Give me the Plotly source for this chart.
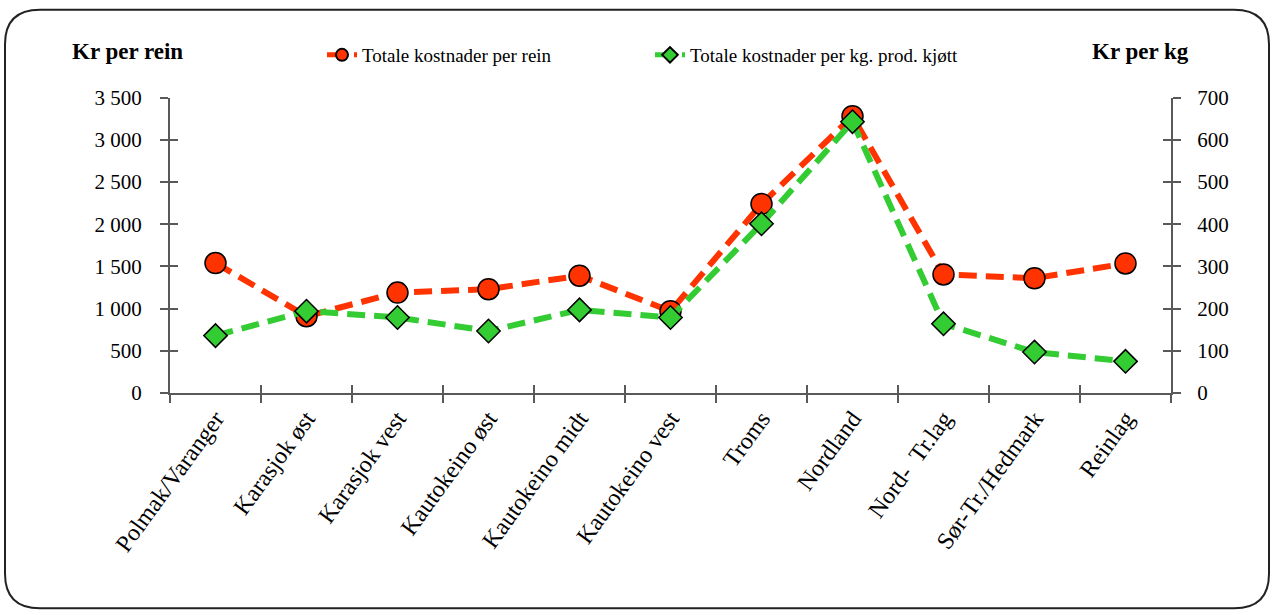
import plotly.graph_objects as go

categories = ["Polmak/Varanger", "Karasjok øst", "Karasjok vest", "Kautokeino øst",
              "Kautokeino midt", "Kautokeino vest", "Troms", "Nordland",
              "Nord-  Tr.lag", "Sør-Tr./Hedmark", "Reinlag"]
kost_per_rein = [1540, 910, 1190, 1230, 1390, 970, 2240, 3280, 1405, 1360, 1535]
kost_per_kg = [136, 194, 179, 147, 197, 179, 401, 643, 164, 97, 75]

left_ticks = [0, 500, 1000, 1500, 2000, 2500, 3000, 3500]
right_ticks = [0, 100, 200, 300, 400, 500, 600, 700]

FONT = "Liberation Serif"
W, H = 1274, 615
ML, MR, MT, MB = 170, 103, 94, 222
PW = W - ML - MR

n = len(categories)
xrange_ = [-0.5, n - 0.5]
boundaries = [i - 0.5 for i in range(n + 1)]

fig = go.Figure()
# invisible helper traces so the overlay axes (inner tick halves) get drawn
fig.add_trace(go.Scatter(x=[None], y=[None], xaxis="x2", yaxis="y3", showlegend=False,
                         hoverinfo="skip", mode="markers"))
fig.add_trace(go.Scatter(x=[None], y=[None], xaxis="x2", yaxis="y4", showlegend=False,
                         hoverinfo="skip", mode="markers"))

fig.add_trace(go.Scatter(
    x=categories, y=kost_per_rein, name="Totale kostnader per rein",
    mode="lines+markers",
    line=dict(color="#FF3300", width=6, dash="18px,9px"),
    marker=dict(symbol="circle", size=21, color="#FF3300", line=dict(color="black", width=1.5)),
    xaxis="x", yaxis="y"))
fig.add_trace(go.Scatter(
    x=categories, y=kost_per_kg, name="Totale kostnader per kg. prod. kjøtt",
    mode="lines+markers",
    line=dict(color="#33CC33", width=6, dash="18px,9px"),
    marker=dict(symbol="diamond", size=18, color="#33CC33", line=dict(color="black", width=1.5)),
    xaxis="x", yaxis="y2"))

LC = "#595959"
axis_common = dict(showgrid=False, zeroline=False, showline=True, linecolor=LC,
                   linewidth=2, ticks="outside", ticklen=8, tickcolor=LC, tickwidth=1.5)
yfont = dict(family=FONT, size=21, color="black")
inner = dict(showgrid=False, zeroline=False, showline=False, ticks="inside", ticklen=8,
             tickcolor=LC, tickwidth=1.5, showticklabels=False, fixedrange=True)

fig.update_layout(
    width=W, height=H,
    paper_bgcolor="white", plot_bgcolor="rgba(0,0,0,0)",
    margin=dict(l=ML, r=MR, t=MT, b=MB),
    separators=", ",
    font=dict(family=FONT, color="black"),
    xaxis=dict(**axis_common, type="category", range=xrange_, tickangle=-54,
               tickson="boundaries",
               tickfont=dict(family=FONT, size=24, color="black")),
    xaxis2=dict(**inner, type="linear", range=xrange_, tickvals=boundaries,
                overlaying="x", anchor="y", side="bottom"),
    yaxis=dict(**axis_common, range=[0, 3500], tickvals=left_ticks, tickformat=",d",
               tickfont=yfont, ticklabelstandoff=14),
    yaxis2=dict(**axis_common, range=[0, 700], tickvals=right_ticks, overlaying="y",
                side="right", tickfont=yfont, ticklabelstandoff=12),
    yaxis3=dict(**inner, range=[0, 3500], tickvals=left_ticks, overlaying="y", side="left",
                anchor="x"),
    yaxis4=dict(**inner, range=[0, 700], tickvals=right_ticks, overlaying="y", side="right",
                anchor="x"),
    legend=dict(orientation="h", x=(322 - ML) / PW, xanchor="left", y=1 - 36 / H,
                yanchor="top", yref="container",
                entrywidth=283, entrywidthmode="pixels", itemsizing="constant",
                font=dict(family=FONT, size=19, color="black"),
                bgcolor="rgba(0,0,0,0)"),
    showlegend=True,
)

fig.add_annotation(text="<b>Kr per rein</b>", xref="paper", yref="paper",
                   x=(70 - ML) / PW, y=1.0,
                   yshift=(MT - 48), xanchor="left", yanchor="middle", showarrow=False,
                   font=dict(family=FONT, size=23, color="black"))
fig.add_annotation(text="<b>Kr per kg</b>", xref="paper", yref="paper",
                   x=(1191 - ML) / PW, y=1.0,
                   yshift=(MT - 48), xanchor="right", yanchor="middle", showarrow=False,
                   font=dict(family=FONT, size=23, color="black"))

# rounded frame around the chart
x0, y0, x1, y1, r = 5, 5, 1269, 611, 35
def px(x):
    return (x - ML) / PW
def py(y):
    return (H - MB - y) / (H - MT - MB)
path = (f"M {px(x0 + r)},{py(y0)} L {px(x1 - r)},{py(y0)} "
        f"Q {px(x1)},{py(y0)} {px(x1)},{py(y0 + r)} L {px(x1)},{py(y1 - r)} "
        f"Q {px(x1)},{py(y1)} {px(x1 - r)},{py(y1)} L {px(x0 + r)},{py(y1)} "
        f"Q {px(x0)},{py(y1)} {px(x0)},{py(y1 - r)} L {px(x0)},{py(y0 + r)} "
        f"Q {px(x0)},{py(y0)} {px(x0 + r)},{py(y0)} Z")
fig.add_shape(type="path", path=path, xref="paper", yref="paper",
              line=dict(color="#222222", width=2), layer="below")

fig.write_html("out.html", config={"responsive": False, "displayModeBar": False},
               post_script="document.body.style.margin='0px';document.body.style.overflow='hidden';")
